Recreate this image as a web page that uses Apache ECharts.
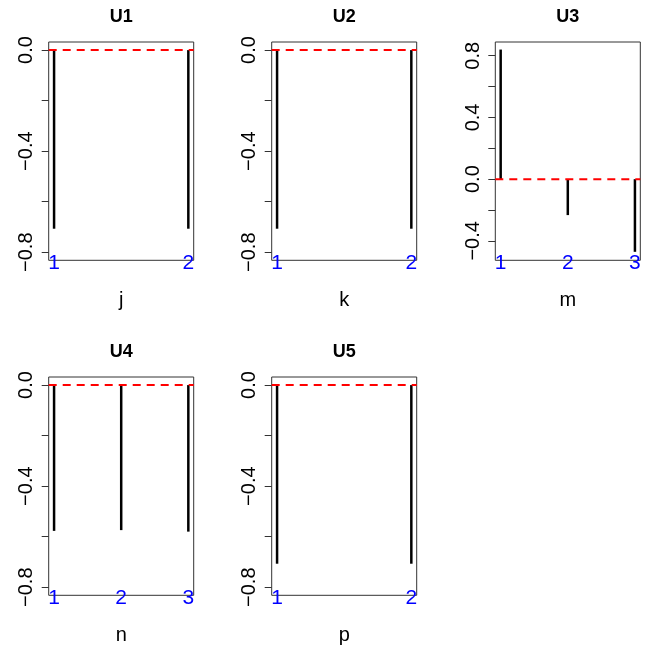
<!DOCTYPE html>
<html><head><meta charset="utf-8">
<script src="https://cdn.jsdelivr.net/npm/echarts@6/dist/echarts.min.js"></script>
<style>html,body{margin:0;padding:0;background:#fff}#c{width:649px;height:652px}</style>
</head><body><div id="c"></div>
<script>
// ---- data ----
const panelTitles = ['U1', 'U2', 'U3', 'U4', 'U5'];
const axisNames = ['j', 'k', 'm', 'n', 'p'];
const u1Values = [-0.707, -0.707];
const u2Values = [-0.707, -0.707];
const u3Values = [0.84, -0.233, -0.471];
const u4Values = [-0.577, -0.574, -0.580];
const u5Values = [-0.707, -0.707];
const xLabels2 = [1, 2];
const xLabels3 = [1, 2, 3];
const yTicksNeg = [0, -0.2, -0.4, -0.6, -0.8];
const yLabelsNeg = [0, -0.4, -0.8];
const yTicksU3 = [0.8, 0.6, 0.4, 0.2, 0, -0.2, -0.4];
const yLabelsU3 = [0.8, 0.4, 0, -0.4];
const yRangeNeg = [-0.832, 0.032];
const yRangeU3 = [-0.526, 0.889];
const xRange2 = [0.96, 2.04];
const xRange3 = [0.92, 3.08];
const refLineValue = 0;

// ---- layout ----
const colLeft = [48.7, 271.7, 495.3];
const rowTop = [42, 377];
const gridW = 145, gridH = 218.3;
const FONT = 'Liberation Sans, Arial, Helvetica, sans-serif';

const panels = [
  { title: panelTitles[0], name: axisNames[0], values: u1Values, xl: xLabels2, xr: xRange2, yt: yTicksNeg, yl: yLabelsNeg, yr: yRangeNeg, row: 0, col: 0 },
  { title: panelTitles[1], name: axisNames[1], values: u2Values, xl: xLabels2, xr: xRange2, yt: yTicksNeg, yl: yLabelsNeg, yr: yRangeNeg, row: 0, col: 1 },
  { title: panelTitles[2], name: axisNames[2], values: u3Values, xl: xLabels3, xr: xRange3, yt: yTicksU3, yl: yLabelsU3, yr: yRangeU3, row: 0, col: 2 },
  { title: panelTitles[3], name: axisNames[3], values: u4Values, xl: xLabels3, xr: xRange3, yt: yTicksNeg, yl: yLabelsNeg, yr: yRangeNeg, row: 1, col: 0 },
  { title: panelTitles[4], name: axisNames[4], values: u5Values, xl: xLabels2, xr: xRange2, yt: yTicksNeg, yl: yLabelsNeg, yr: yRangeNeg, row: 1, col: 1 }
];

const grid = [], xAxis = [], yAxis = [], series = [], title = [];
panels.forEach((p, i) => {
  const left = colLeft[p.col], top = rowTop[p.row];
  grid.push({ left: left, top: top, width: gridW, height: gridH, show: true,
    borderColor: '#333', borderWidth: 1, backgroundColor: 'transparent', containLabel: false });
  title.push({ text: p.title, left: left + gridW / 2, top: top - 34, textAlign: 'center', padding: 0,
    textStyle: { fontFamily: FONT, fontWeight: 'bold', fontSize: 18, color: '#000', lineHeight: 18 } });
  xAxis.push({ type: 'value', gridIndex: i, min: p.xr[0], max: p.xr[1],
    axisLine: { show: false }, axisTick: { show: false }, splitLine: { show: false },
    axisLabel: { customValues: p.xl, color: '#0000FF', fontSize: 21, fontFamily: FONT, margin: -8, lineHeight: 21,
      formatter: v => String(Math.round(v)) },
    name: p.name, nameLocation: 'middle', nameGap: 30,
    nameTextStyle: { fontFamily: FONT, fontSize: 20, color: '#000', lineHeight: 20 } });
  yAxis.push({ type: 'value', gridIndex: i, min: p.yr[0], max: p.yr[1],
    axisLine: { show: false }, splitLine: { show: false },
    axisTick: { show: true, customValues: p.yt, length: 7, lineStyle: { color: '#333', width: 1 } },
    axisLabel: { customValues: p.yl, rotate: 90, margin: 12, fontSize: 20, lineHeight: 20, fontFamily: FONT, color: '#000',
      formatter: v => v.toFixed(1).replace('-', '\u2212').replace('\u22120.0', '0.0') } });
  series.push({ type: 'custom', xAxisIndex: i, yAxisIndex: i, z: 2,
    data: p.values.map((v, k) => [k + 1, v]),
    encode: { x: 0, y: 1 },
    renderItem: (params, api) => {
      const x = api.value(0), y = api.value(1);
      const p0 = api.coord([x, 0]), p1 = api.coord([x, y]);
      return { type: 'line', shape: { x1: p0[0], y1: p0[1], x2: p1[0], y2: p1[1] },
        style: { stroke: '#000', lineWidth: 2.5 } };
    } });
  series.push({ type: 'line', xAxisIndex: i, yAxisIndex: i, z: 5, symbol: 'none', silent: true,
    data: [[p.xr[0], refLineValue], [p.xr[1], refLineValue]],
    lineStyle: { color: '#FF0000', width: 2, type: [8, 6] } });
});

const chart = echarts.init(document.getElementById('c'), null, { renderer: 'canvas' });
chart.setOption({ animation: false, backgroundColor: '#fff', title, grid, xAxis, yAxis, series });
</script></body></html>
